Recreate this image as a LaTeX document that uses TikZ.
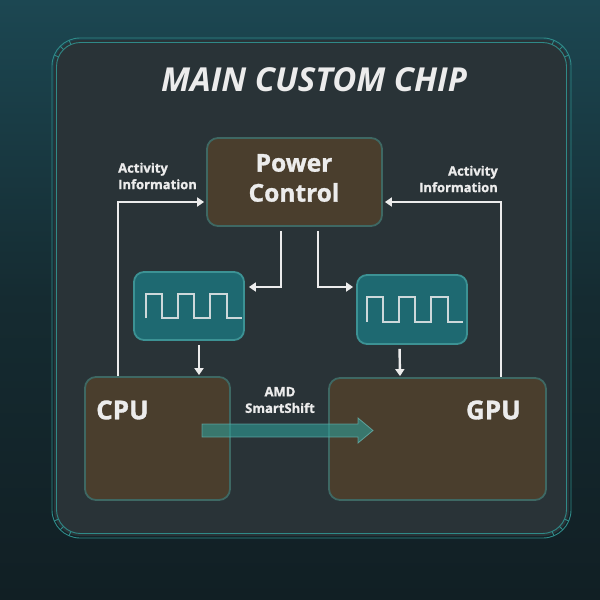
\documentclass[tikz,border=0pt]{standalone}
\usepackage{fontspec}
\setmainfont{Open Sans}[BoldFeatures={FakeBold=1.2}]
\usetikzlibrary{arrows.meta,calc}
\definecolor{bgTop}{HTML}{1C4752}
\definecolor{bgMid}{HTML}{152B31}
\definecolor{bgBot}{HTML}{111F24}
\definecolor{chipfill}{HTML}{293337}
\definecolor{frameC}{HTML}{2F8A88}
\definecolor{brownF}{HTML}{4A3E2D}
\definecolor{brownB}{HTML}{3E6863}
\definecolor{tealF}{HTML}{1E6971}
\definecolor{tealB}{HTML}{3C9294}
\definecolor{txt}{HTML}{ECECEC}
\definecolor{ssC}{HTML}{2F9E98}
\begin{document}
\begin{tikzpicture}[x=1pt,y=-1pt,
  frameline/.style={draw=frameC,line width=0.9pt},
  brownbox/.style={draw=brownB,line width=1.8pt,fill=brownF,rounded corners=11pt,inner sep=0pt},
  clockbox/.style={draw=tealB,line width=1.8pt,fill=tealF,rounded corners=10pt,inner sep=0pt},
  bigtxt/.style={text=txt,font=\bfseries\fontsize{24.5}{30}\selectfont,align=center,inner sep=0pt},
  smalltxt/.style={text=txt,font=\bfseries\fontsize{13}{16.5}\selectfont,inner sep=0pt},
  arr/.style={draw=txt,line width=2.4pt,-{Triangle[length=7pt,width=9pt]}},
  wave/.style={draw=txt!85!tealF,line width=1.3pt,line join=miter},
  smartarrow/.style={fill=ssC,fill opacity=0.6,draw=ssC!70!white,draw opacity=0.7,line width=0.8pt}
]
\useasboundingbox (0,0) rectangle (600,600);
% background
\shade[top color=bgTop, bottom color=bgBot, middle color=bgMid] (0,0) rectangle (600,600);
% chip
\fill[chipfill, rounded corners=26pt] (54,40) rectangle (569,536);
\draw[frameline, rounded corners=28pt] (52,38) rectangle (571,538);
\draw[frameline, rounded corners=24pt] (56.5,42.5) rectangle (566.5,533.5);
\foreach \cx/\cy/\a in {80/66/225, 543/66/315, 543/510/45, 80/510/135}{
  \foreach \d in {-22,0,22}{
    \draw[frameline] ($(\cx,\cy)+(\a+\d:23.5)$) -- ($(\cx,\cy)+(\a+\d:28)$);
  }
}
\node[text=txt,font=\bfseries\itshape\fontsize{33}{38}\selectfont,inner sep=0pt] (title) at (314,80) {MAIN CUSTOM CHIP};
% boxes
\node[brownbox,minimum width=175pt,minimum height=88pt] (pc) at (294.5,182) {};
\node[bigtxt] (pctxt) at (294,178) {Power\\Control};
\node[clockbox,minimum width=110pt,minimum height=68pt] (clkL) at (189,306) {};
\node[clockbox,minimum width=110pt,minimum height=69pt] (clkR) at (412,309.5) {};
\node[brownbox,minimum width=145pt,minimum height=123pt] (cpu) at (157.5,438.5) {};
\node[brownbox,minimum width=217pt,minimum height=122pt] (gpu) at (437.5,439) {};
% waves
\draw[wave] (146,318) -- (146,294) -- (162,294) -- (162,318) -- (178,318) -- (178,294) -- (194,294) -- (194,318) -- (210,318) -- (210,294) -- (227,294) -- (227,318) -- (242,318);
\draw[wave] (367,322) -- (367,297) -- (383,297) -- (383,322) -- (399,322) -- (399,297) -- (415,297) -- (415,322) -- (431,322) -- (431,297) -- (448,297) -- (448,322) -- (463,322);
% labels
\node[smalltxt,align=left,anchor=west] (actL) at (118,176) {Activity\\Information};
\node[smalltxt,align=right,anchor=east] (actR) at (498,179) {Activity\\Information};
\node[bigtxt,font=\bfseries\fontsize{26}{30}\selectfont,anchor=west] (cpulbl) at (96,410) {CPU};
\node[bigtxt,font=\bfseries\fontsize{26}{30}\selectfont,anchor=east] (gpulbl) at (521,410) {GPU};
% connectors
\draw[arr,shorten >=2pt] ([xshift=-39.5pt]cpu.north) |- ([yshift=-20pt]pc.west);
\draw[arr,shorten >=2pt] ([xshift=63.5pt]gpu.north) |- ([yshift=-20pt]pc.east);
\draw[arr,shorten <=4pt,shorten >=4pt] ([xshift=-13.5pt]pc.south) |- ([yshift=19pt]clkL.east);
\draw[arr,shorten <=4pt,shorten >=3pt] ([xshift=23.5pt]pc.south) |- ([yshift=22.5pt]clkR.west);
\draw[arr,shorten <=4pt,shorten >=1pt] ([xshift=10pt]clkL.south) -- ([xshift=41.5pt]cpu.north);
\draw[arr,shorten <=4pt,shorten >=1pt] ([xshift=-12.5pt]clkR.south) -- ([xshift=-37.5pt]gpu.north);
% smartshift
\draw[smartarrow] (202,424) -- (358,424) -- (358,418) -- (373,430.5) -- (358,443) -- (358,437) -- (202,437) -- cycle;
\node[smalltxt,align=center] (ss) at (280,400) {AMD\\SmartShift};
\end{tikzpicture}
\end{document}
